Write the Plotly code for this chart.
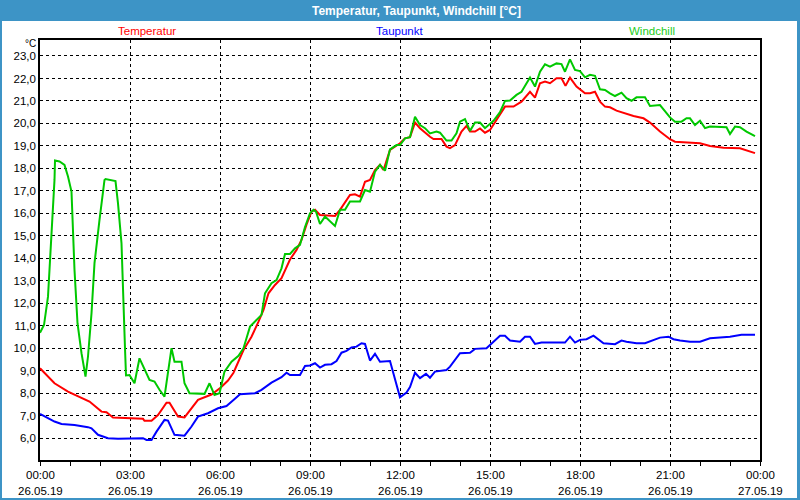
import plotly.graph_objects as go

# ---- data ----
temp_times = ["00:00","00:29","00:56","01:16","01:39","02:03","02:13","02:26","02:56","03:26","03:29","03:43",
              "03:56","04:13","04:19","04:36","04:49","05:06","05:16","05:43","06:01","06:16","06:27","06:47",
              "07:03","07:17","07:27","07:37","07:50","08:03","08:20","08:33","08:43","08:53","09:03","09:10",
              "09:20","09:50","10:00","10:20","10:30","10:40","10:50","11:00","11:10","11:20","11:27","11:40",
              "11:50","12:00","12:10","12:20","12:30","12:40","13:00","13:07","13:23","13:33","13:40","13:50",
              "14:03","14:13","14:20","14:30","14:40","14:50","15:00","15:13","15:30","15:47","16:03","16:20",
              "16:30","16:40","16:50","17:00","17:13","17:23","17:31","17:40","17:53","18:10","18:20","18:30",
              "18:40","18:50","19:00","19:13","19:30","19:47","20:07","20:20","20:40","21:00","21:10","21:33",
              "22:00","22:20","22:47","23:20","23:33","23:50"]
temp_values = [9.12,8.45,8.08,7.86,7.64,7.19,7.16,6.93,6.90,6.87,6.78,6.78,
               7.04,7.59,7.59,6.97,6.93,7.41,7.71,7.95,8.25,8.57,8.92,9.93,
               10.52,11.19,11.71,12.45,12.82,13.12,13.95,14.38,14.82,15.50,16.08,16.16,
               15.93,15.89,16.16,16.82,16.85,16.75,17.41,17.49,17.93,18.16,17.93,18.82,
               18.97,19.12,19.34,19.39,20.04,19.79,19.41,19.31,19.31,18.97,18.90,19.04,
               19.64,19.89,19.64,19.64,19.78,19.59,19.71,20.15,20.75,20.75,20.97,21.41,
               21.15,21.79,21.86,21.79,22.01,22.01,21.67,22.04,21.64,21.34,21.34,21.41,
               20.97,20.75,20.72,20.57,20.45,20.33,20.23,20.04,19.64,19.30,19.19,19.15,
               19.12,19.00,18.92,18.90,18.79,18.68]

dew_times = ["00:00","00:16","00:29","00:43","01:09","01:36","01:43","01:56","02:16","02:36","03:16","03:26",
             "03:33","03:43","03:53","04:09","04:16","04:29","04:49","05:03","05:16","05:36","05:56","06:13",
             "06:27","06:40","07:10","07:23","07:43","08:03","08:13","08:20","08:40","08:50","09:00","09:10",
             "09:20","09:30","09:43","09:53","10:03","10:13","10:23","10:33","10:43","10:50","11:00","11:10",
             "11:20","11:37","11:40","12:00","12:13","12:20","12:30","12:40","12:52","13:00","13:10","13:33",
             "13:40","14:00","14:20","14:30","14:53","15:07","15:20","15:30","15:40","16:00","16:10","16:20",
             "16:30","16:43","17:30","17:40","17:50","18:00","18:13","18:27","18:37","18:47","19:10","19:23",
             "19:33","19:53","20:10","20:27","20:40","20:57","21:07","21:20","21:40","22:00","22:20","22:40",
             "23:00","23:23","23:50"]
dew_values = [7.09,6.90,6.75,6.64,6.60,6.50,6.45,6.16,6.01,5.98,5.98,6.01,
              5.93,5.93,6.30,6.82,6.79,6.16,6.12,6.53,6.97,7.12,7.34,7.44,
              7.71,7.96,8.01,8.16,8.48,8.72,8.92,8.82,8.82,9.22,9.24,9.34,
              9.15,9.27,9.30,9.44,9.81,9.89,10.04,10.08,10.23,10.20,9.46,9.76,
              9.41,9.44,9.44,7.83,8.04,8.28,8.92,8.68,8.87,8.70,8.97,9.04,
              9.19,9.79,9.81,9.98,10.01,10.30,10.56,10.56,10.35,10.30,10.52,10.52,
              10.20,10.26,10.26,10.52,10.26,10.38,10.41,10.57,10.41,10.23,10.19,10.35,
              10.30,10.23,10.23,10.38,10.48,10.52,10.41,10.35,10.30,10.30,10.45,10.48,
              10.52,10.61,10.61]

wind_times = ["00:00","00:08","00:16","00:23","00:29","00:30","00:39","00:49","00:56","01:03","01:09","01:15",
              "01:23","01:31","01:36","01:43","01:49","01:59","02:09","02:11","02:19","02:31","02:36","02:43",
              "02:50","02:52","02:59","03:09","03:19","03:39","03:49","03:59","04:09","04:16","04:23","04:29",
              "04:43","04:49","04:59","05:29","05:39","05:49","05:59","06:09","06:23","06:37","06:47","07:00",
              "07:17","07:23","07:30","07:43","07:53","08:03","08:10","08:20","08:30","08:40","08:50","09:00",
              "09:07","09:12","09:20","09:30","09:50","10:00","10:10","10:20","10:40","10:50","11:00","11:10",
              "11:20","11:30","11:40","11:53","12:00","12:10","12:20","12:30","12:40","12:50","13:00","13:13",
              "13:20","13:33","13:43","13:53","14:00","14:10","14:20","14:30","14:40","14:50","15:07","15:20",
              "15:30","15:40","15:53","16:03","16:20","16:30","16:40","16:50","17:00","17:13","17:23","17:30",
              "17:40","17:50","18:00","18:10","18:20","18:30","18:40","18:50","19:00","19:10","19:23","19:33",
              "19:43","19:53","20:10","20:20","20:40","21:00","21:10","21:23","21:33","21:40","21:50","22:00",
              "22:10","22:20","22:53","23:00","23:10","23:20","23:33","23:50"]
wind_values = [10.70,11.04,12.30,14.82,17.49,18.35,18.31,18.16,17.64,16.97,13.49,11.12,
               9.79,8.75,9.64,11.56,13.79,15.71,17.49,17.53,17.49,17.44,16.45,14.67,
               10.01,8.80,8.82,8.45,9.56,8.60,8.53,8.16,7.86,8.90,10.01,9.41,
               9.41,8.45,8.01,7.98,8.45,7.93,8.01,8.97,9.41,9.67,10.01,10.97,
               11.34,11.49,12.45,12.90,13.04,13.56,14.20,14.20,14.45,14.60,15.40,16.01,
               16.16,16.08,15.53,15.86,15.44,16.16,16.16,16.53,16.53,17.04,16.97,17.86,
               18.16,17.90,18.85,19.04,19.04,19.34,19.39,20.30,19.93,19.79,19.56,19.64,
               19.59,19.24,19.24,19.56,20.08,20.19,19.67,20.04,20.04,19.79,20.12,20.50,
               21.00,21.02,21.27,21.41,22.04,21.64,22.30,22.63,22.53,22.67,22.64,22.30,
               22.85,22.38,22.33,22.05,22.16,22.12,21.52,21.49,21.34,21.22,21.37,21.12,
               21.01,21.16,21.16,20.78,20.82,20.27,20.08,20.08,20.23,20.23,19.93,20.12,
               19.79,19.86,19.83,19.53,19.86,19.83,19.64,19.44]

x_tick_minutes = [0, 180, 360, 540, 720, 900, 1080, 1260, 1440]
x_tick_times = ["00:00", "03:00", "06:00", "09:00", "12:00", "15:00", "18:00", "21:00", "00:00"]
x_tick_dates = ["26.05.19", "26.05.19", "26.05.19", "26.05.19", "26.05.19",
                "26.05.19", "26.05.19", "26.05.19", "27.05.19"]

series_names = ["Temperatur", "Taupunkt", "Windchill"]
title_text = "Temperatur, Taupunkt, Windchill [°C]"


def to_min(t):
    h, m = t.split(":")
    return int(h) * 60 + int(m)


RED, BLUE, GREEN = "#FF0000", "#0000FF", "#00C800"
BAR = "#3D94C6"
FONT = "Liberation Sans"

fig = go.Figure()
fig.add_trace(go.Scatter(x=[to_min(t) for t in temp_times], y=temp_values, mode="lines",
                         line=dict(color=RED, width=2), name=series_names[0]))
fig.add_trace(go.Scatter(x=[to_min(t) for t in dew_times], y=dew_values, mode="lines",
                         line=dict(color=BLUE, width=2), name=series_names[1]))
fig.add_trace(go.Scatter(x=[to_min(t) for t in wind_times], y=wind_values, mode="lines",
                         line=dict(color=GREEN, width=2), name=series_names[2]))

L, R, T, B = 40, 40, 40, 40
W, H = 800, 500
pw, ph = W - L - R, H - T - B


def px(xp):
    return (xp - L) / pw


def py(yp):
    return (H - B - yp) / ph


fig.update_layout(
    width=W, height=H, margin=dict(l=L, r=R, t=T, b=B, pad=0),
    paper_bgcolor="#FFFFFF", plot_bgcolor="#FFFFFF",
    showlegend=False, separators=", ",
    font=dict(family=FONT, size=11, color="#000000"),
)
fig.update_xaxes(
    range=[0, 1440], tickvals=x_tick_minutes, ticktext=[""] * len(x_tick_minutes),
    showline=True, linecolor="#000000", linewidth=1.5, mirror=True,
    ticks="outside", ticklen=4, tickcolor="#000000", tickwidth=1,
    showgrid=True, gridcolor="#000000", gridwidth=1, griddash="3px,3px",
    minor=dict(dtick=60, tick0=0, ticks="outside", ticklen=4, tickcolor="#000000", showgrid=False),
    zeroline=False, tickfont=dict(size=11),
)
fig.update_yaxes(
    range=[5.04, 23.71], dtick=1, tick0=0, tickformat=".1f",
    showline=True, linecolor="#000000", linewidth=1.5, mirror=True,
    ticks="", showgrid=True, gridcolor="#000000", gridwidth=1, griddash="3px,3px",
    zeroline=False, tickfont=dict(size=11.5),
)

# title bar and frame
shapes = [
    dict(type="rect", xref="paper", yref="paper", x0=px(0), x1=px(800), y0=py(21), y1=py(0),
         fillcolor=BAR, line=dict(width=0), layer="below"),
    dict(type="rect", xref="paper", yref="paper", x0=px(0), x1=px(2), y0=py(500), y1=py(0),
         fillcolor=BAR, line=dict(width=0)),
    dict(type="rect", xref="paper", yref="paper", x0=px(797), x1=px(800), y0=py(500), y1=py(0),
         fillcolor=BAR, line=dict(width=0)),
    dict(type="rect", xref="paper", yref="paper", x0=px(0), x1=px(800), y0=py(500), y1=py(498),
         fillcolor=BAR, line=dict(width=0)),
]
fig.update_layout(shapes=shapes)

ann = [
    dict(text="<b>" + title_text + "</b>", x=px(416), y=py(10.5), xref="paper", yref="paper",
         showarrow=False, font=dict(family=FONT, size=12, color="#FFFFFF"), xanchor="center", yanchor="middle"),
    dict(text=series_names[0], x=px(147), y=py(31), xref="paper", yref="paper", showarrow=False,
         font=dict(color=RED, size=11.5), xanchor="center", yanchor="middle"),
    dict(text=series_names[1], x=px(399), y=py(31), xref="paper", yref="paper", showarrow=False,
         font=dict(color=BLUE, size=11.5), xanchor="center", yanchor="middle"),
    dict(text=series_names[2], x=px(652), y=py(31), xref="paper", yref="paper", showarrow=False,
         font=dict(color="#22CC22", size=11.5), xanchor="center", yanchor="middle"),
    dict(text="°C", x=px(38), y=py(43.5), xref="paper", yref="paper", showarrow=False,
         font=dict(size=10), xanchor="right", yanchor="middle"),
]
# x tick labels (two lines: time and date), placed at the axis tick positions
for m, tt, dd in zip(x_tick_minutes, x_tick_times, x_tick_dates):
    ann.append(dict(text=tt, x=m, xref="x", y=py(475), yref="paper", showarrow=False,
                    font=dict(size=11.5), xanchor="center", yanchor="middle"))
    ann.append(dict(text=dd, x=m, xref="x", y=py(491), yref="paper", showarrow=False,
                    font=dict(size=11.5), xanchor="center", yanchor="middle"))
fig.update_layout(annotations=ann)

fig.write_html("out.html")
